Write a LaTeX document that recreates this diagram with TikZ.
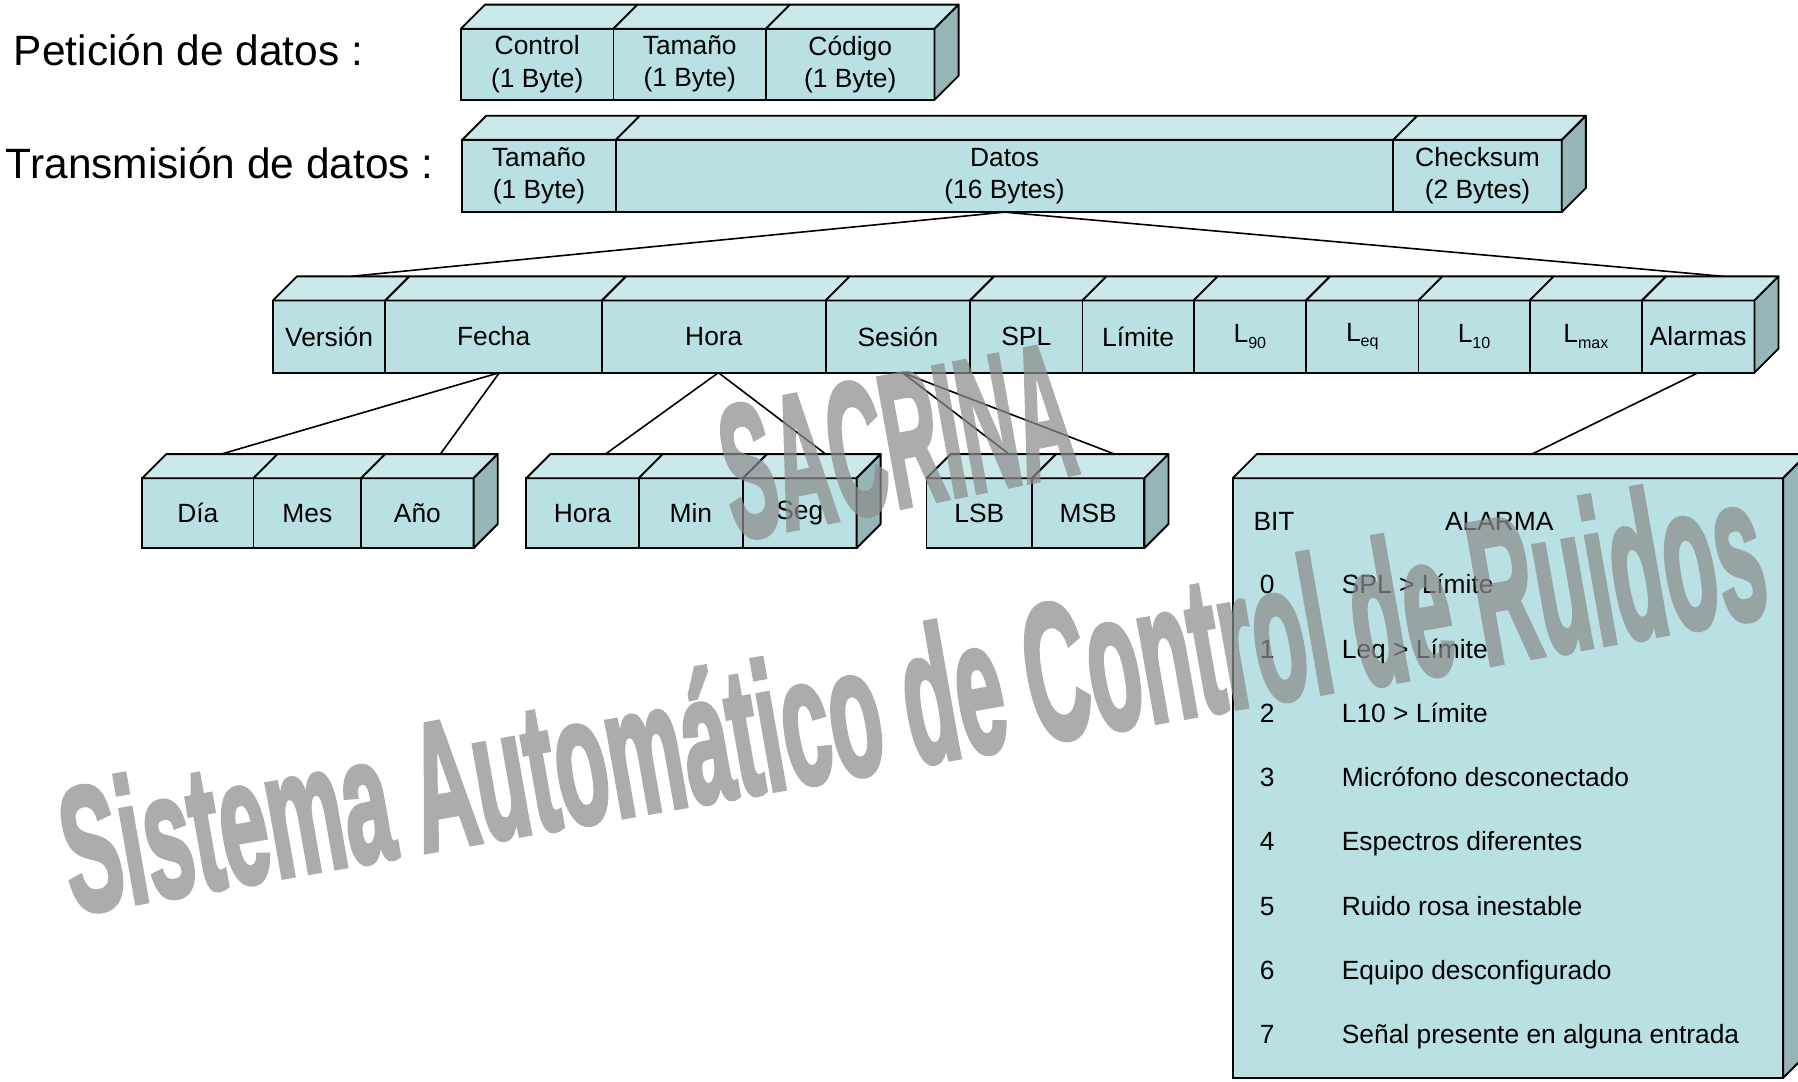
\documentclass[tikz,border=0pt]{standalone}
\usepackage{fontspec}
\setmainfont{Liberation Sans}
\newfontfamily\wmfont[FakeBold=3]{Liberation Sans Bold}
\usetikzlibrary{calc}
\definecolor{frontc}{RGB}{185,224,227}
\definecolor{topc}{RGB}{203,232,234}
\definecolor{sidec}{RGB}{150,181,183}
\definecolor{wmc}{RGB}{140,140,140}
\tikzset{
  seg/.style={draw=black, line width=1.6pt, fill=frontc, inner sep=0pt, outer sep=0pt,
    align=center, font=\fontsize{23}{28}\selectfont},
  topface/.style={draw=black, line width=1.6pt, fill=topc, line join=round},
  sideface/.style={draw=black, line width=1.6pt, fill=sidec, line join=round},
  link/.style={draw=black, line width=1.4pt},
  title/.style={font=\fontsize{37}{40}\selectfont, anchor=west, inner sep=0pt},
  atext/.style={font=\fontsize{23}{28}\selectfont, inner sep=0pt},
  wm/.style={font=\fontsize{180}{180}\wmfont, text=wmc, inner sep=0pt,
    anchor=base west, rotate=10, xscale=0.418}
}
\newcommand\bseg[6]{%
  \node[seg, minimum width={#3-#2}, minimum height={#5-#4}, anchor=north west] (#1) at (#2,#4) {#6};
  \path[topface] (#1.north west) -- ([shift={(21,-21)}]#1.north west)
     -- ([shift={(21,-21)}]#1.north east) -- (#1.north east) -- cycle;
}
\newcommand\bside[1]{%
  \path[sideface] (#1.north east) -- ([shift={(21,-21)}]#1.north east)
     -- ([shift={(21,-21)}]#1.south east) -- (#1.south east) -- cycle;
}
\newcommand\Lsub[1]{L\raisebox{-5pt}{\fontsize{14}{14}\selectfont #1}}
\begin{document}
\begin{tikzpicture}[x=1pt,y=-1pt]
\useasboundingbox (0,0) rectangle (1568,943);
\clip (0,0) rectangle (1568,943);

% titles
\node[title] (pet) at (12,44) {Petición de datos :};
\node[title] (tra) at (5,142) {Transmisión de datos :};

% row 1
\bseg{ctrl}{402}{535}{25}{87}{Control\\(1 Byte)}
\bseg{tamA}{535}{668}{25}{87}{Tamaño\\(1 Byte)}
\bseg{cod}{668}{815}{25}{87}{Código\\(1 Byte)}
\bside{cod}

% row 2
\bseg{tamB}{403}{537}{122}{185}{Tamaño\\(1 Byte)}
\bseg{datos}{537}{1215}{122}{185}{Datos\\(16 Bytes)}
\bseg{chk}{1215}{1362}{122}{185}{Checksum\\(2 Bytes)}
\bside{chk}

% row 3
\bseg{version}{238}{336}{262}{325}{Versión}
\bseg{fecha}{336}{525}{262}{325}{Fecha}
\bseg{hora}{525}{720}{262}{325}{Hora}
\bseg{sesion}{720}{846}{262}{325}{Sesión}
\bseg{spl}{846}{944}{262}{325}{SPL}
\bseg{limite}{944}{1041}{262}{325}{Límite}
\bseg{lnoventa}{1041}{1139}{262}{325}{\Lsub{90}}
\bseg{leq}{1139}{1237}{262}{325}{\Lsub{eq}}
\bseg{ldiez}{1237}{1334}{262}{325}{\Lsub{10}}
\bseg{lmax}{1334}{1432}{262}{325}{\Lsub{max}}
\bseg{alarmas}{1432}{1530}{262}{325}{Alarmas}
\bside{alarmas}

% row 4
\bseg{dia}{124}{221}{417}{478}{Día}
\bseg{mes}{221}{315}{417}{478}{Mes}
\bseg{anio}{315}{413}{417}{478}{Año}
\bside{anio}
\bseg{horab}{459}{557}{417}{478}{Hora}
\bseg{minu}{557}{648}{417}{478}{Min}
\bseg{seg}{648}{747}{417}{478}{Seg}
\bside{seg}
\bseg{lsb}{808}{900}{417}{478}{LSB}
\bseg{msb}{900}{998}{417}{478}{MSB}
\bside{msb}
\bseg{abox}{1075}{1555}{417}{940}{}
\bside{abox}

% connectors
\draw[link] (datos.south) -- ([shift={(68,-21)}]version.north west);
\draw[link] (datos.south) -- ([shift={(71,-21)}]alarmas.north west);
\draw[link] ([xshift=5]fecha.south) -- ([shift={(69,-21)}]dia.north west);
\draw[link] ([xshift=5]fecha.south) -- ([shift={(69,-21)}]anio.north west);
\draw[link] ([xshift=4]hora.south) -- ([shift={(69,-21)}]horab.north west);
\draw[link] ([xshift=4]hora.south) -- ([shift={(72,-21)}]seg.north west);
\draw[link] ([xshift=4]sesion.south) -- ([shift={(72,-21)}]lsb.north west);
\draw[link] ([xshift=4]sesion.south) -- ([shift={(72,-21)}]msb.north west);
\draw[link] (alarmas.south) -- ([shift={(261,-21)}]abox.north west);

% alarm table
\node[atext, anchor=base west] (bit) at (1093,463) {BIT};
\node[atext, anchor=base west] (alarma) at (1260,463) {ALARMA};
\foreach \i/\t in {0/{SPL > Límite},1/{Leq > Límite},2/{L10 > Límite},3/{Micrófono desconectado},4/{Espectros diferentes},5/{Ruido rosa inestable},6/{Equipo desconfigurado},7/{Señal presente en alguna entrada}}{
  \node[atext, anchor=base] (n\i) at (1105,518+56*\i) {\i};
  \node[atext, anchor=base west] (d\i) at (1170,518+56*\i) {\t};
}

% watermark
\begin{scope}[transparency group, opacity=0.72]
\node[wm, font=\fontsize{165}{165}\wmfont, anchor=base, rotate=0.5, xscale=0.98] (wmA) at (792,441) {SACRINA};
\node[wm, yscale=0.86] (wmB) at (64,797) {Sistema};
\node[wm, yscale=0.88] (wmC) at (369,743) {Automático};
\node[wm, yscale=0.92] (wmD) at (797,667) {de};
\node[wm, yscale=0.94] (wmE) at (904,648) {Control};
\node[wm, yscale=0.97] (wmF) at (1188,599) {de};
\node[wm, yscale=0.99] (wmG) at (1295,580) {Ruidos};
\end{scope}
\end{tikzpicture}
\end{document}
